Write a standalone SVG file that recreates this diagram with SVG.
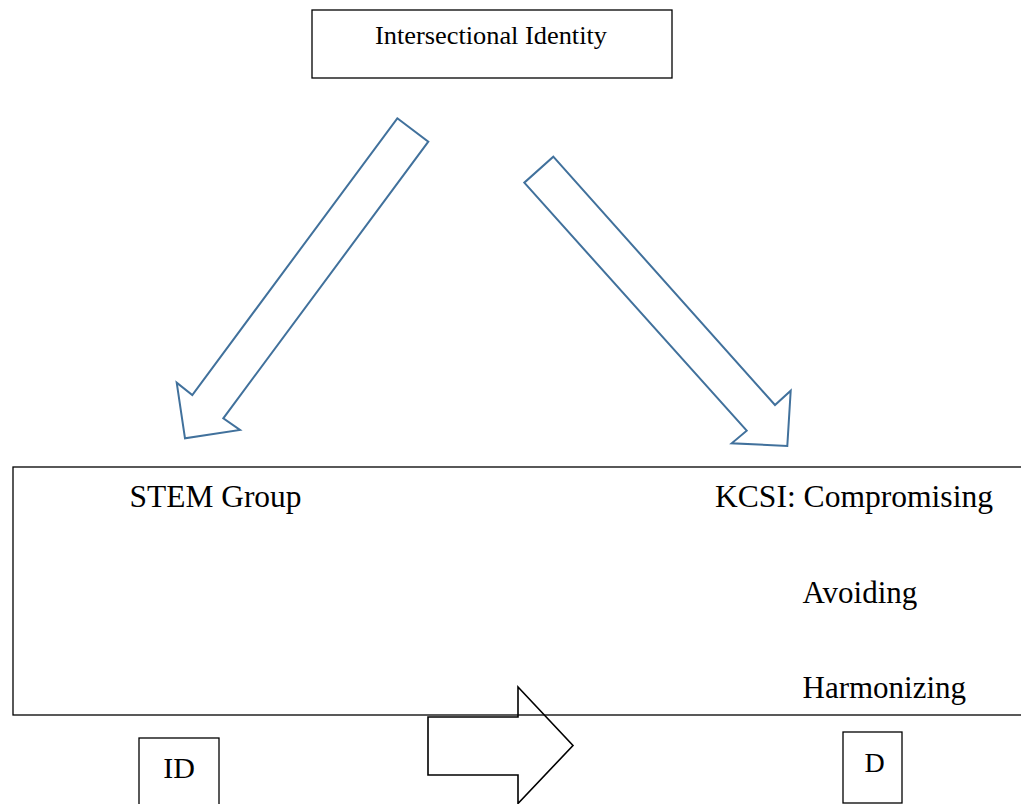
<svg xmlns="http://www.w3.org/2000/svg" width="1021" height="804" viewBox="0 0 1021 804">
<style>
.box{fill:#fff;stroke:#000;stroke-width:1.3}
.frame{fill:none;stroke:#000;stroke-width:1.3}
.t{font-family:"Liberation Serif","Times New Roman",serif;fill:#000}
.blue{fill:none;stroke:#41719C;stroke-width:2;stroke-linejoin:miter}
.blk{fill:none;stroke:#000;stroke-width:1.6;stroke-linejoin:miter}
</style>
<rect width="1021" height="804" fill="#fff"/>
<g id="intersectional-identity">
<rect class="box" x="312" y="10" width="360" height="68"/>
<text class="t" x="375" y="44" font-size="25" textLength="232" lengthAdjust="spacingAndGlyphs">Intersectional Identity</text>
</g>
<g id="main-frame">
<rect class="frame" x="13" y="467" width="1030" height="248"/>
</g>
<g id="stem-group">
<text class="t" x="129.5" y="507" font-size="31.5" textLength="172" lengthAdjust="spacingAndGlyphs">STEM Group</text>
</g>
<g id="kcsi">
<text class="t" x="715" y="507" font-size="31.5" textLength="278" lengthAdjust="spacingAndGlyphs">KCSI: Compromising</text>
<text class="t" x="802.5" y="603" font-size="31">Avoiding</text>
<text class="t" x="802.5" y="698" font-size="31">Harmonizing</text>
</g>
<g id="id-box">
<rect class="box" x="139" y="738" width="80" height="80"/>
<text class="t" x="179" y="778" font-size="30" text-anchor="middle">ID</text>
</g>
<g id="d-box">
<rect class="box" x="843" y="732" width="59" height="71"/>
<text class="t" x="874.5" y="771.5" font-size="28" text-anchor="middle">D</text>
</g>
<g id="connectors">
<polygon class="blue" points="397.3,118.3 428.3,141.7 223.3,418.3 240,430 185,438.3 176.7,382.7 192.3,395"/>
<polygon class="blue" points="553.3,156.7 775,405 790.7,390.7 787.3,446 731.7,443.3 746.7,430.7 524.3,182.7"/>
<polygon class="blk" points="428,717 518,717 518,687 573,745.5 518,803.5 518,775 428,775"/>
</g>
</svg>
